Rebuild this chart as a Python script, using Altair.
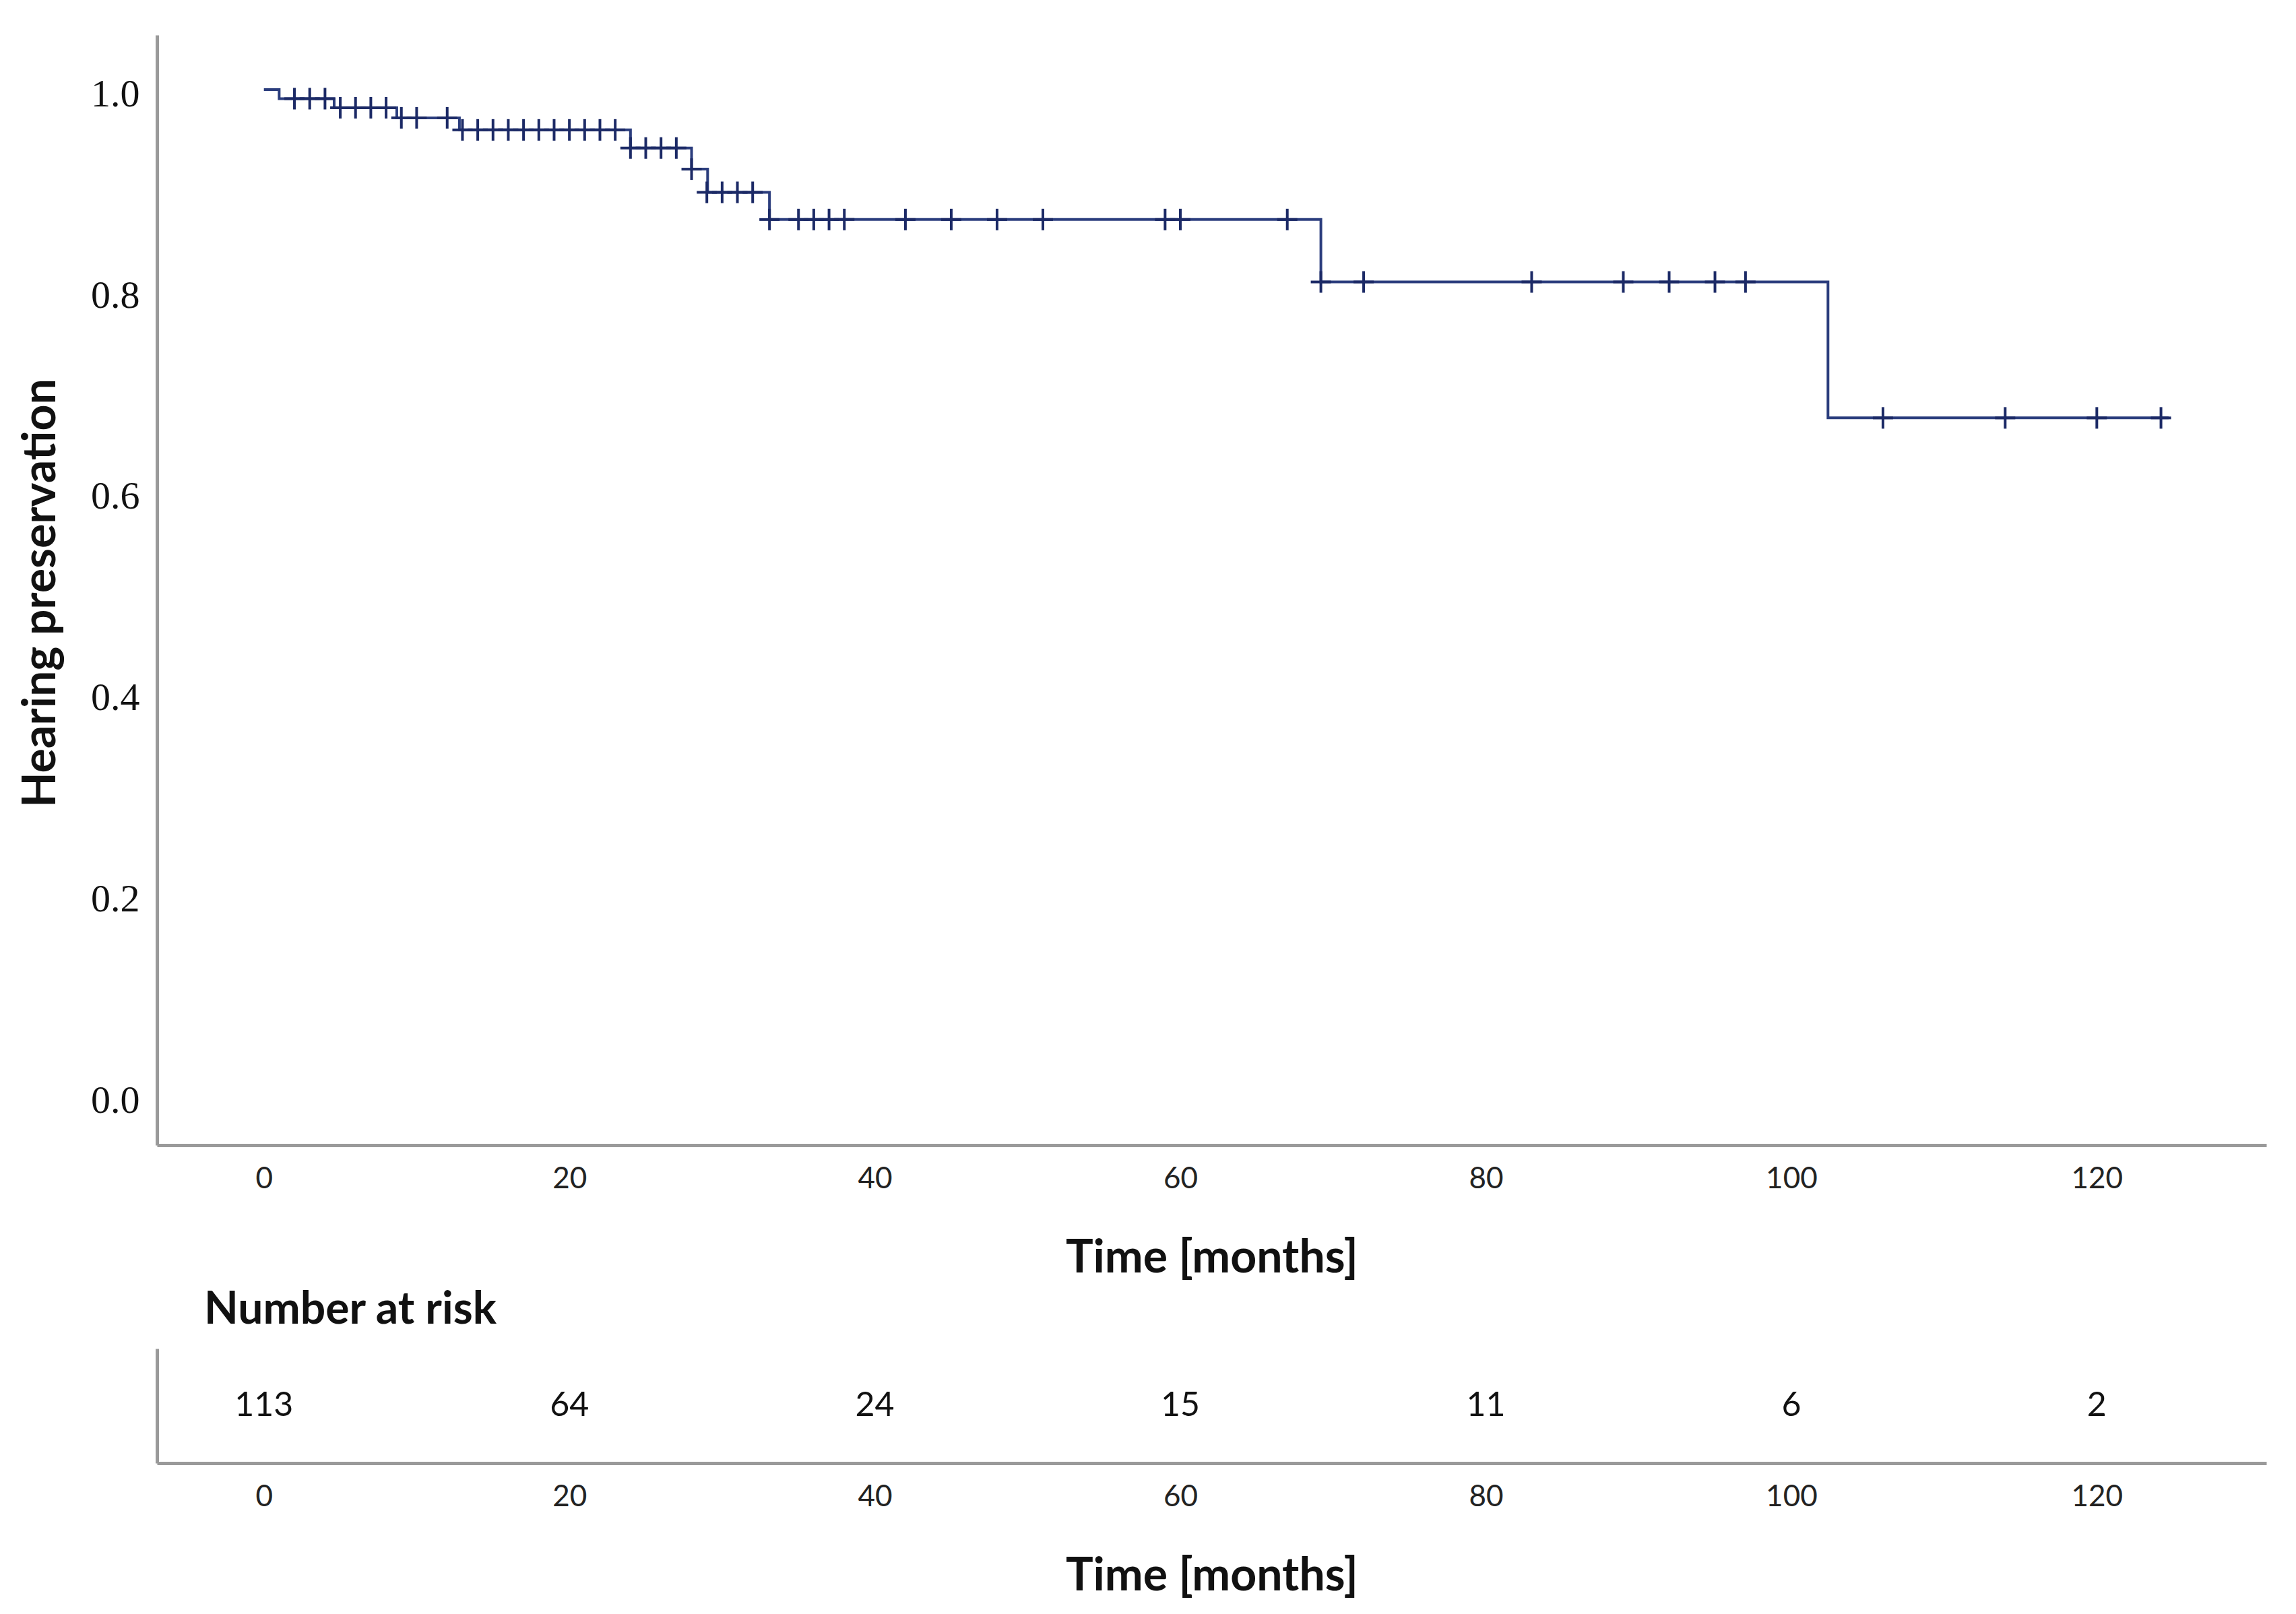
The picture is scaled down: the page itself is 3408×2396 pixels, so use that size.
import altair as alt
import pandas as pd

# ---- Kaplan-Meier curve ----
step_times = [0.0, 1.0, 4.6, 8.7, 12.8, 24.0, 28.0, 29.05, 33.1, 69.2, 102.4, 124.7]
step_surv = [1.0, 0.991, 0.982, 0.972, 0.960, 0.942, 0.921, 0.898, 0.871, 0.809, 0.674, 0.674]

# ---- censored observations ----
censor_times = [2, 3, 4,
                5, 6, 7, 8,
                9, 10, 12,
                13, 14, 15, 16, 17, 18, 19, 20, 21, 22, 23,
                24, 25, 26, 27,
                28,
                29, 30, 31, 32,
                33.1, 35, 36, 37, 38, 42, 45, 48, 51, 59, 60, 67,
                69.2, 72, 83, 89, 92, 95, 97,
                106, 114, 120, 124.2]
censor_surv = [0.991] * 3 + [0.982] * 4 + [0.972] * 3 + [0.960] * 11 + [0.942] * 4 + \
              [0.921] * 1 + [0.898] * 4 + [0.871] * 12 + [0.809] * 7 + [0.674] * 4

# ---- number at risk table ----
risk_times = [0, 20, 40, 60, 80, 100, 120]
risk_counts = [113, 64, 24, 15, 11, 6, 2]

x_ticks = [0, 20, 40, 60, 80, 100, 120]
y_ticks = [0.0, 0.2, 0.4, 0.6, 0.8, 1.0]

curve_df = pd.DataFrame({"time": step_times, "surv": step_surv})
cens_df = pd.DataFrame({"time": censor_times, "surv": censor_surv})
risk_df = pd.DataFrame({"time": risk_times, "count": [str(c) for c in risk_counts],
                        "row": ["all"] * len(risk_times)})

AXIS_GREY = "#9a9a9a"
LINE_BLUE = "#2b3d7d"
TICK_BLUE = "#1c2a66"

x_scale = alt.Scale(domain=[-7.0, 131.1], nice=False, zero=False)
y_scale = alt.Scale(domain=[-0.0482, 1.0542], nice=False, zero=False)


def x_axis():
    return alt.Axis(values=x_ticks, title="Time [months]", ticks=False, tickSize=0, grid=False,
                    domainColor=AXIS_GREY, domainWidth=5, labelFont="Lato", labelFontSize=44,
                    labelColor="#222222", labelBaseline="middle", labelPadding=50, labelFlush=False,
                    titleFont="Lato", titleFontWeight="bold", titleFontSize=68, titleColor="#111111",
                    titleY=168, titleBaseline="middle")


y_axis = alt.Axis(values=y_ticks, format=".1f", title="Hearing preservation", ticks=False, tickSize=0,
                  grid=False, domainColor=AXIS_GREY, domainWidth=5, labelFont="Liberation Serif",
                  labelFontSize=58, labelColor="#111111", labelPadding=26, labelOffset=7,
                  titleFont="Lato", titleFontWeight="bold", titleFontSize=68, titleColor="#111111",
                  titleX=-172, titleY=828, titleBaseline="middle")

X = alt.X("time:Q", scale=x_scale, axis=x_axis())
Y = alt.Y("surv:Q", scale=y_scale, axis=y_axis)

line = alt.Chart(curve_df).mark_line(interpolate="step-after", color=LINE_BLUE, strokeWidth=4).encode(x=X, y=Y)
vt = alt.Chart(cens_df).mark_tick(orient="vertical", size=32, thickness=4, color=TICK_BLUE, opacity=1).encode(x=X, y=Y)
ht = alt.Chart(cens_df).mark_tick(orient="horizontal", size=30, thickness=4, color=TICK_BLUE, opacity=1).encode(x=X, y=Y)

top = alt.layer(line, vt, ht).properties(width=3131, height=1648)

risk = alt.Chart(risk_df).mark_text(font="Lato", fontSize=50, color="#111111").encode(
    x=alt.X("time:Q", scale=x_scale, axis=x_axis()),
    y=alt.Y("row:N", axis=alt.Axis(labels=False, ticks=False, tickSize=0, title=None, grid=False,
                                   domainColor=AXIS_GREY, domainWidth=5)),
    text="count:N",
).properties(
    width=3131, height=170,
    title=alt.TitleParams("Number at risk", anchor="start", dx=70, offset=-29, baseline="alphabetic",
                          font="Lato", fontWeight="bold", fontSize=66, color="#111111"),
)

chart = alt.vconcat(top, risk, spacing=10).properties(
    padding={"left": 19, "top": 44, "right": 10, "bottom": 5}
).configure_view(stroke=None)

chart.save("out.html", embed_options={"renderer": "svg", "actions": False})
